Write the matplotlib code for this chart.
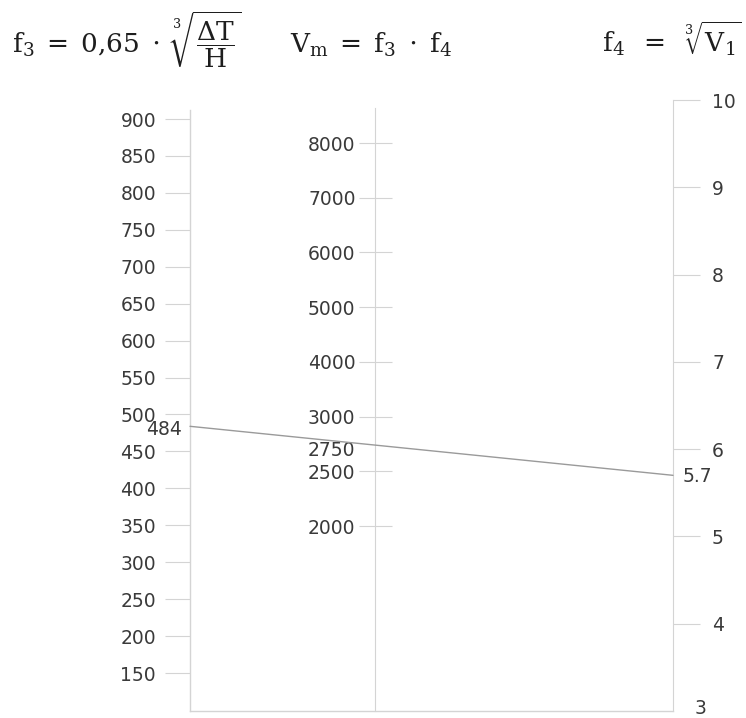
import matplotlib
matplotlib.use("Agg")
import matplotlib.pyplot as plt
from matplotlib.patches import ConnectionPatch
import numpy as np

# Scale values
f3_ticks = [150, 200, 250, 300, 350, 400, 450, 500, 550, 600, 650, 700, 750, 800, 850, 900]
vm_ticks = [2000, 2500, 3000, 4000, 5000, 6000, 7000, 8000]
f4_ticks = [4, 5, 6, 7, 8, 9, 10]
f4_min = 3

# Worked example
f3_value = 484
f4_value = 5.7
vm_value = 2750

# Axis ranges of the three scales (the Vm scale is graduated by step index)
f3_range = (98.6, 912.2)
vm_index_range = (-3.38, 7.64)
f4_range = (3, 10)

W, H = 746, 718
fig = plt.figure(figsize=(W / 100, H / 100), dpi=100)
plt.rcParams["mathtext.fontset"] = "dejavuserif"

AX_COL = "#d4d4d4"
TXT_COL = "#3a3a3a"
FS = 13.5
PX = 72 / 100  # points per pixel


def rect(x0, x1, ytop, ybot):
    return [x0 / W, 1 - ybot / H, (x1 - x0) / W, (ybot - ytop) / H]


def bare(ax):
    for s in ax.spines.values():
        s.set_visible(False)
    ax.set_xticks([])
    ax.patch.set_visible(False)


# Left scale: f3, with the bottom frame line
axL = fig.add_axes(rect(190, 673, 110, 711))
bare(axL)
for s in ("left", "bottom"):
    axL.spines[s].set_visible(True)
    axL.spines[s].set_color(AX_COL)
    axL.spines[s].set_linewidth(1.0)
axL.set_xlim(0, 1)
axL.set_ylim(*f3_range)
axL.set_yticks(f3_ticks)
axL.set_yticklabels([str(v) for v in f3_ticks])
axL.tick_params(axis="y", direction="out", length=25 * PX, width=0.8,
                color=AX_COL, pad=9 * PX, labelsize=FS, labelcolor=TXT_COL)

# Middle scale: Vm, one equal step per graduation
vm_index = np.arange(len(vm_ticks))
axM = fig.add_axes(rect(375, 376, 108, 711))
bare(axM)
axM.spines["left"].set_visible(True)
axM.spines["left"].set_color(AX_COL)
axM.set_xlim(0, 1)
axM.set_ylim(*vm_index_range)
axM.set_yticks(vm_index)
axM.set_yticklabels([str(v) for v in vm_ticks])
axM.tick_params(axis="y", direction="inout", length=33 * PX, width=0.8,
                color=AX_COL, pad=3 * PX, labelsize=FS, labelcolor=TXT_COL)

# Right scale: f4
axR = fig.add_axes(rect(663, 673, 100, 711))
bare(axR)
axR.spines["right"].set_visible(True)
axR.spines["right"].set_color(AX_COL)
axR.set_xlim(0, 1)
axR.set_ylim(*f4_range)
axR.yaxis.tick_right()
axR.set_yticks(f4_ticks)
axR.set_yticklabels([str(v) for v in f4_ticks])
axR.tick_params(axis="y", direction="out", length=27 * PX, width=0.8,
                color=AX_COL, pad=12 * PX, labelsize=FS, labelcolor=TXT_COL)
axR.annotate(str(f4_min), xy=(1, f4_min), xycoords=("axes fraction", "data"),
             xytext=(28 * PX, 2 * PX), textcoords="offset points",
             ha="center", va="center", fontsize=FS, color=TXT_COL)

# Index line joining f3 and f4
LINE_COL = "#9a9a9a"
con = ConnectionPatch(xyA=(0, f3_value), coordsA=axL.transData,
                      xyB=(1, f4_value), coordsB=axR.transData,
                      color=LINE_COL, lw=1.0)
fig.add_artist(con)

axL.annotate(str(f3_value), xy=(0, f3_value), xycoords="data",
             xytext=(-8 * PX, -3 * PX), textcoords="offset points",
             ha="right", va="center", fontsize=FS, color=TXT_COL)
axR.annotate(str(f4_value), xy=(1, f4_value), xycoords="data",
             xytext=(10 * PX, -1 * PX), textcoords="offset points",
             ha="left", va="center", fontsize=FS, color=TXT_COL)

# Result read on the middle scale
vm_pos = np.interp(vm_value, vm_ticks, vm_index)
axM.annotate(str(vm_value), xy=(0, vm_pos), xycoords="data",
             xytext=(-20 * PX, -7 * PX), textcoords="offset points",
             ha="right", va="center", fontsize=FS, color=TXT_COL)

# Formula headings
TFS = 19
HEAD_COL = "#1e1e1e"
fig.text(12 / W, 1 - 53 / H,
         r"$\mathrm{f}_3\;=\;0{,}65\;\cdot\;\sqrt[3]{\dfrac{\Delta\mathrm{T}}{\mathrm{H}}}$",
         ha="left", va="baseline", fontsize=TFS, color=HEAD_COL)
fig.text(290 / W, 1 - 53 / H,
         r"$\mathrm{V}_\mathrm{m}\;=\;\mathrm{f}_3\;\cdot\;\mathrm{f}_4$",
         ha="left", va="baseline", fontsize=TFS, color=HEAD_COL)
fig.text(742 / W, 1 - 53 / H,
         r"$\mathrm{f}_4\;\;=\;\;\sqrt[3]{\mathrm{V}_1}$",
         ha="right", va="baseline", fontsize=TFS, color=HEAD_COL)

fig.savefig("out.png", dpi=100, facecolor="white")
